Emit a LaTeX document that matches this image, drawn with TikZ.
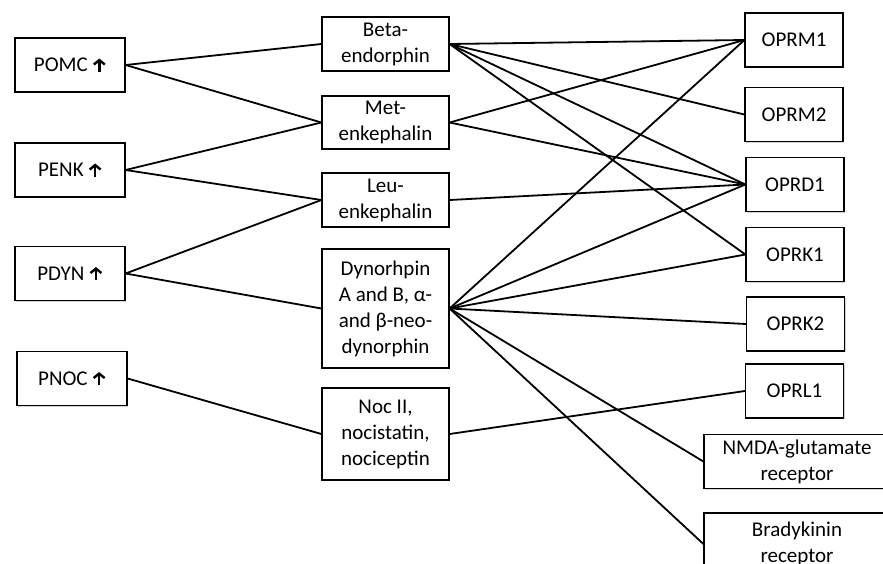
\documentclass[tikz,border=0pt]{standalone}
\usepackage{fontspec}
\setmainfont{Carlito}
\usetikzlibrary{shadows,arrows.meta}
\newcommand{\up}{\tikz[baseline=0pt]{\draw[line width=2.4pt, -{Straight Barb[length=4.5pt, width=11pt, line width=2.4pt]}] (0pt,0pt) -- (0pt,13pt);}}
\begin{document}
\begin{tikzpicture}[x=1pt,y=-1pt,
  box/.style={draw, line width=1.2pt, fill=white, inner sep=0pt, align=center,
    font=\fontsize{21}{26}\selectfont,
    drop shadow={shadow xshift=1pt, shadow yshift=-1.2pt, opacity=0.35}},
  gene/.style={box, minimum width=110pt, minimum height=54pt},
  peptide/.style={box, minimum width=127pt},
  receptor/.style={box, minimum width=98pt, minimum height=54pt},
  link/.style={draw, line width=1.8pt, -}]
\useasboundingbox (0,0) rectangle (883,563);
% precursor genes
\node[gene] (pomc) at (70,65) {POMC \up};
\node[gene] (penk) at (70,170) {PENK \up};
\node[gene] (pdyn) at (70,273.5) {PDYN \up};
\node[gene] (pnoc) at (72,378.5) {PNOC \up};
% peptides
\node[peptide, minimum height=54pt] (beta) at (385.5,44) {Beta-\\endorphin};
\node[peptide, minimum height=53pt] (met) at (385.5,122.5) {Met-\\enkephalin};
\node[peptide, minimum height=54pt] (leu) at (385.5,200) {Leu-\\enkephalin};
\node[peptide, minimum height=119pt] (dyn) at (385.5,308.5) {Dynorhpin\\A and B, α-\\and β-neo-\\dynorphin};
\node[peptide, minimum height=92pt] (noc) at (385.5,434) {Noc II,\\nocistatin,\\nociceptin};
% receptors
\node[receptor] (oprm1) at (794,40) {OPRM1};
\node[receptor] (oprm2) at (794,114.5) {OPRM2};
\node[receptor] (oprd1) at (795,184.5) {OPRD1};
\node[receptor] (oprk1) at (795,254.5) {OPRK1};
\node[receptor] (oprk2) at (795.5,324) {OPRK2};
\node[receptor] (oprl1) at (794.5,391) {OPRL1};
\node[box, minimum width=186pt, minimum height=54pt] (nmda) at (797,461.5) {NMDA-glutamate\\receptor};
\node[box, minimum width=186pt, minimum height=62pt] (brady) at (797,544) {Bradykinin\\receptor};

\path[link] (pomc.east) -- (beta.west);
\path[link] (pomc.east) -- (met.west);
\path[link] (penk.east) -- (met.west);
\path[link] (penk.east) -- (leu.west);
\path[link] (pdyn.east) -- (leu.west);
\path[link] (pdyn.east) -- (dyn.west);
\path[link] (pnoc.east) -- (noc.west);

\path[link] (beta.east) -- (oprm1.west);
\path[link] (beta.east) -- (oprm2.west);
\path[link] (beta.east) -- (oprd1.west);
\path[link] (beta.east) -- (oprk1.west);
\path[link] (met.east) -- (oprm1.west);
\path[link] (met.east) -- (oprd1.west);
\path[link] (leu.east) -- (oprd1.west);
\path[link] (dyn.east) -- (oprm1.west);
\path[link] (dyn.east) -- (oprd1.west);
\path[link] (dyn.east) -- (oprk1.west);
\path[link] (dyn.east) -- (oprk2.west);
\path[link] (dyn.east) -- (nmda.west);
\path[link] (dyn.east) -- (brady.west);
\path[link] (noc.east) -- (oprl1.west);
\end{tikzpicture}
\end{document}
